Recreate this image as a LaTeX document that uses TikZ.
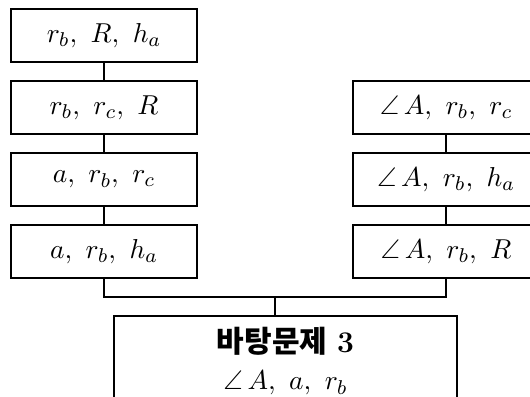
\documentclass[tikz,border=0pt]{standalone}
\usepackage{amsmath,amssymb}
\usepackage{fontspec}
\newfontfamily\kfont{Noto Sans CJK KR}
\usepackage{tikz}
\usetikzlibrary{calc}
\tikzset{
  condbox/.style={
    draw,
    line width=0.6pt,
    shape=rectangle,
    minimum width=74.4pt,
    minimum height=21.2pt,
    inner sep=0pt,
    font=\fontsize{10.8}{13}\selectfont
  },
  basebox/.style={
    draw,
    line width=0.6pt,
    shape=rectangle,
    minimum width=137.2pt,
    minimum height=36pt,
    align=center,
    inner sep=0pt,
    font=\fontsize{10.8}{13}\selectfont
  },
  link/.style={
    line width=0.6pt
  }
}

\begin{document}
\begin{tikzpicture}[x=0.4pt,y=-0.4pt]
    \clip (0,0) rectangle (530,396);
    % left column
    \node[condbox] (l1) at (104,35.5) {$r_b,\ R,\ h_a$};
    \node[condbox] (l2) at (104,107.5) {$r_b,\ r_c,\ R$};
    \node[condbox] (l3) at (104,179.5) {$a,\ r_b,\ r_c$};
    \node[condbox] (l4) at (104,251.5) {$a,\ r_b,\ h_a$};
    % right column
    \node[condbox] (r2) at (446,107.5) {$\angle\,A,\ r_b,\ r_c$};
    \node[condbox] (r3) at (446,179.5) {$\angle\,A,\ r_b,\ h_a$};
    \node[condbox] (r4) at (446,251.5) {$\angle\,A,\ r_b,\ R$};
    % base problem
    \node[basebox] (base) at (285.5,361) {{\large{\kfont\bfseries 바탕문제} \textbf{3}}\\[2pt] $\angle\,A,\ a,\ r_b$};
    \coordinate (join) at (275,297);
    \draw[link] (l1) -- (l2);
    \draw[link] (l2) -- (l3);
    \draw[link] (l3) -- (l4);
    \draw[link] (r2) -- (r3);
    \draw[link] (r3) -- (r4);
    \draw[link] (l4.south) |- (join) -| (r4.south);
    \draw[link] (join) -- (join |- base.north);
\end{tikzpicture}
\end{document}
